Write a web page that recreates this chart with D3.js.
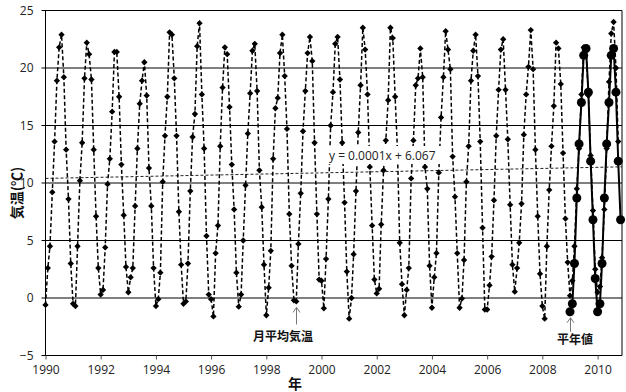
<!DOCTYPE html>
<html>
<head>
<meta charset="utf-8">
<script src="https://cdn.jsdelivr.net/npm/d3@7"></script>
<style>
  body { margin: 0; background: #fff; }
  text { font-family: "Open Sans", sans-serif; }
  .jp { font-family: "Noto Sans CJK JP", sans-serif; font-weight: bold; }
</style>
</head>
<body>
<svg width="626" height="392"></svg>
<script>
// monthly mean temperature, one row per year (Jan..Dec), from 1990
var startYear = 1990;
var monthly = [
  [-0.6, 2.6, 4.5, 9.2, 13.6, 18.9, 21.8, 22.9, 19.2, 12.9, 8.6, 3.0],
  [-0.5, -0.7, 4.5, 10.2, 13.5, 19.1, 22.2, 21.2, 19.0, 12.9, 7.1, 2.6],
  [0.3, 0.7, 4.4, 9.9, 12.1, 16.2, 21.4, 21.4, 17.5, 11.6, 7.2, 2.7],
  [0.5, 1.8, 2.6, 8.0, 13.0, 16.9, 18.9, 20.5, 17.6, 11.3, 8.0, 2.6],
  [-0.7, -0.1, 2.2, 10.1, 14.1, 17.5, 23.1, 22.9, 19.1, 14.1, 7.5, 2.9],
  [-0.5, -0.3, 3.0, 9.3, 14.0, 16.0, 21.9, 23.9, 17.7, 13.0, 5.4, 0.3],
  [-0.1, -1.6, 3.9, 6.3, 13.2, 18.3, 21.8, 21.2, 16.6, 11.6, 7.7, 2.2],
  [-0.75, 0.3, 5.0, 9.8, 14.3, 17.8, 21.5, 22.1, 18.0, 11.1, 7.9, 2.9],
  [-1.5, 0.9, 4.1, 12.1, 16.5, 17.4, 21.3, 22.9, 19.3, 14.7, 7.3, 2.8],
  [-0.2, -0.3, 4.7, 9.1, 14.5, 18.0, 21.3, 22.7, 20.6, 13.5, 7.3, 1.6],
  [1.5, -0.9, 3.4, 8.6, 15.0, 17.9, 22.1, 22.7, 19.0, 13.5, 8.3, 2.3],
  [-1.8, 0.0, 3.8, 9.3, 14.4, 18.5, 23.5, 21.6, 17.7, 11.4, 6.3, 1.6],
  [0.4, 0.8, 6.4, 11.1, 13.7, 17.2, 23.5, 22.6, 17.5, 13.0, 4.8, 1.2],
  [-1.5, 0.7, 2.6, 10.4, 13.7, 18.5, 19.1, 21.7, 19.2, 11.4, 9.5, 2.8],
  [-0.85, 1.8, 3.9, 10.9, 15.7, 19.2, 23.2, 21.6, 19.9, 12.3, 8.8, 3.9],
  [-0.85, -0.05, 3.3, 10.1, 13.2, 18.9, 21.5, 22.9, 19.3, 13.6, 6.1, -1.0],
  [-1.0, 1.1, 3.6, 8.5, 14.1, 18.1, 21.6, 22.5, 18.1, 13.8, 8.1, 2.9],
  [0.55, 2.6, 4.8, 8.2, 14.2, 17.7, 20.1, 23.3, 19.9, 12.9, 7.1, 2.1],
  [-0.7, -1.8, 4.5, 9.4, 13.2, 16.7, 22.2, 21.7, 18.6, 12.6, 6.9, 3.1],
  [0.2, 1.5, 4.5, 9.5, 13.0, 17.7, 21.8, 21.7, 17.6, 12.4, 7.6, 2.5],
  [0.5, 1.0, 3.5, 7.7, 13.0, 18.8, 23.0, 24.0, 20.0, 13.6]
];

// normal values (平年値), monthly from Jan 2009
var normalStart = [2009, 0];
var normals = [-1.2, -0.5, 3.0, 8.7, 13.4, 17.0, 21.1, 21.7, 17.9, 11.9, 6.8, 1.7,
               -1.2, -0.5, 3.0, 8.7, 13.4, 17.0, 21.1, 21.7, 17.9, 11.9, 6.8];

var yTicks = [-5, 0, 5, 10, 15, 20, 25];
var xTickYears = [1990, 1992, 1994, 1996, 1998, 2000, 2002, 2004, 2006, 2008, 2010];

// linear trend, x = spreadsheet date serial (days)
var trendSlope = 0.0001318, trendIntercept = 6.067;
var trendLabel = "y = 0.0001x + 6.067";

var svg = d3.select("svg");

var x = d3.scaleUtc()
    .domain([new Date(Date.UTC(1990, 0, 1)), new Date(Date.UTC(2010, 10, 20))])
    .range([45.5, 622]);
var y = d3.scaleLinear().domain([-5, 25]).range([355.5, 10.5]);

var series = [];
monthly.forEach(function(row, i) {
  row.forEach(function(v, m) {
    series.push({date: new Date(Date.UTC(startYear + i, m, 1)), value: v});
  });
});
var normalSeries = normals.map(function(v, i) {
  return {date: new Date(Date.UTC(normalStart[0], normalStart[1] + i, 1)), value: v};
});

// grid
svg.append("g").selectAll("line")
    .data(yTicks)
  .enter().append("line")
    .attr("x1", 41.5).attr("x2", 622)
    .attr("y1", function(d) { return y(d); })
    .attr("y2", function(d) { return y(d); })
    .attr("stroke", "#000")
    .attr("stroke-width", 1);

// frame
svg.append("line").attr("x1", 45.5).attr("x2", 45.5).attr("y1", 10.5).attr("y2", 355.5).attr("stroke", "#000");
svg.append("line").attr("x1", 622).attr("x2", 622).attr("y1", 10.5).attr("y2", 355.5).attr("stroke", "#000");

// x axis
var xAxis = d3.axisBottom(x)
    .tickValues(xTickYears.map(function(yr) { return new Date(Date.UTC(yr, 0, 1)); }))
    .tickFormat(d3.utcFormat("%Y"))
    .tickSizeInner(4).tickSizeOuter(0).tickPadding(6);
var gx = svg.append("g").attr("transform", "translate(0,355.5)").call(xAxis);
gx.select(".domain").remove();
gx.selectAll("line").attr("stroke", "#555");
gx.selectAll("text").attr("fill", "#222").style("font-size", "12px").style("font-family", "Open Sans");

// y axis
var yAxis = d3.axisLeft(y).tickValues(yTicks).tickSize(0).tickPadding(12);
var gy = svg.append("g").attr("transform", "translate(45.5,0)").call(yAxis);
gy.select(".domain").remove();
gy.selectAll("text").attr("fill", "#222").style("font-size", "12px").style("font-family", "Open Sans");

// trend line
function serial(d) { return (d - Date.UTC(1899, 11, 30)) / 86400000; }
var xd = x.domain();
svg.append("line")
    .attr("x1", x(xd[0])).attr("x2", x(xd[1]))
    .attr("y1", y(trendSlope * serial(xd[0]) + trendIntercept))
    .attr("y2", y(trendSlope * serial(xd[1]) + trendIntercept))
    .attr("stroke", "#222")
    .attr("stroke-width", 1)
    .attr("stroke-dasharray", "3,2");

var line = d3.line()
    .x(function(d) { return x(d.date); })
    .y(function(d) { return y(d.value); });

// monthly mean series
svg.append("path")
    .datum(series)
    .attr("d", line)
    .attr("fill", "none")
    .attr("stroke", "#000")
    .attr("stroke-width", 1.5)
    .attr("stroke-dasharray", "4,2.5");

var diamond = d3.symbol(d3.symbolSquare, 20);
svg.append("g").selectAll("path")
    .data(series)
  .enter().append("path")
    .attr("d", diamond)
    .attr("transform", function(d) { return "translate(" + x(d.date) + "," + y(d.value) + ") rotate(45)"; })
    .attr("fill", "#000");

// normals
svg.append("path")
    .datum(normalSeries)
    .attr("d", line)
    .attr("fill", "none")
    .attr("stroke", "#000")
    .attr("stroke-width", 2);

svg.append("g").selectAll("circle")
    .data(normalSeries)
  .enter().append("circle")
    .attr("cx", function(d) { return x(d.date); })
    .attr("cy", function(d) { return y(d.value); })
    .attr("r", 4.5)
    .attr("fill", "#000");

// trend equation label
svg.append("rect")
    .attr("x", 327).attr("y", 146).attr("width", 116).attr("height", 18)
    .attr("fill", "#fff");
svg.append("text")
    .attr("x", 329).attr("y", 160)
    .style("font-size", "12px")
    .attr("fill", "#222")
    .text(trendLabel);

// annotations
function arrow(date, value, len, label, lx, ly) {
  var ax = Math.round(x(date)) + 0.5,
      top = y(value) + 6;
  svg.append("path")
      .attr("d", "M" + ax + "," + (top + len) + "V" + top + "M" + (ax - 3.5) + "," + (top + 5) + "L" + ax + "," + top + "L" + (ax + 3.5) + "," + (top + 5))
      .attr("fill", "none")
      .attr("stroke", "#777")
      .attr("stroke-width", 1);
  svg.append("text")
      .attr("class", "jp")
      .attr("x", lx).attr("y", ly)
      .attr("text-anchor", "middle")
      .style("font-size", "12px")
      .attr("fill", "#111")
      .text(label);
}
arrow(new Date(Date.UTC(1999, 1, 1)), -0.3, 17, "月平均気温", 283, 341);
arrow(new Date(Date.UTC(2009, 0, 1)), -1.2, 14, "平年値", 575, 344);

// axis titles
svg.append("text")
    .attr("class", "jp")
    .attr("x", 295).attr("y", 389)
    .attr("text-anchor", "middle")
    .style("font-size", "14px")
    .attr("fill", "#111")
    .text("年");

svg.append("text")
    .attr("class", "jp")
    .attr("transform", "translate(22,193) rotate(-90)")
    .attr("text-anchor", "middle")
    .style("font-size", "14px")
    .attr("fill", "#111")
    .text("気温(℃)");
</script>
</body>
</html>
